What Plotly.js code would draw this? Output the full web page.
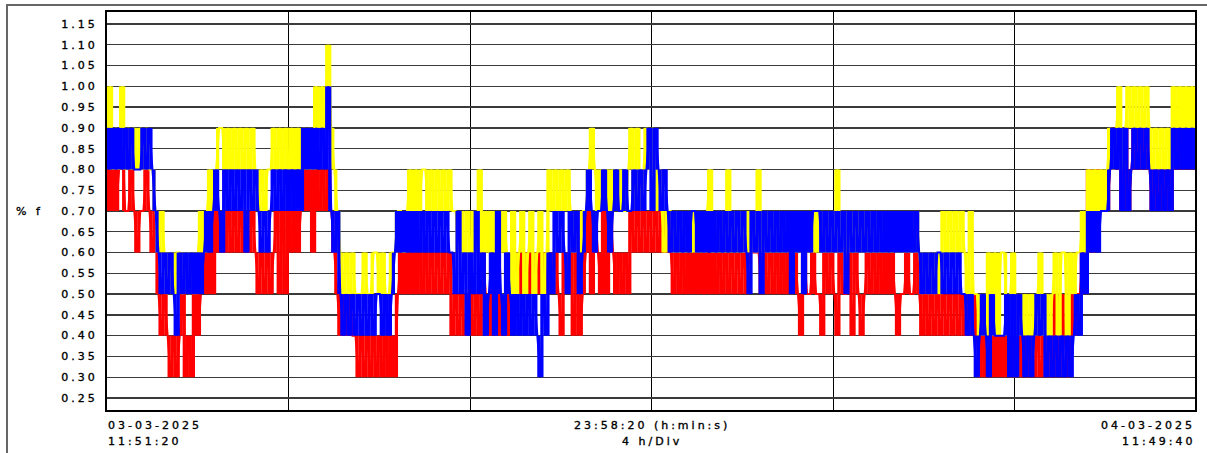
<!DOCTYPE html>
<html>
<head>
<meta charset="utf-8">
<script src="https://cdn.plot.ly/plotly-3.0.1.min.js"></script>
<style>
  html, body { margin: 0; padding: 0; background: #fff; }
  #chart { width: 1207px; height: 453px; }
  svg text { letter-spacing: 3px; stroke: #000; stroke-width: 0.35px; }
</style>
</head>
<body>
<div id="chart"></div>
<script>
// Recording: 03-03-2025 11:51:20 -> 04-03-2025 11:49:40 (4 h/Div)
const durationHours = 23 + 58 / 60 + 20 / 3600;

const yTickValues = [0.25, 0.30, 0.35, 0.40, 0.45, 0.50, 0.55, 0.60, 0.65, 0.70, 0.75, 0.80, 0.85, 0.90, 0.95, 1.00, 1.05, 1.10, 1.15];
const yTickLabels = ["0.25", "0.30", "0.35", "0.40", "0.45", "0.50", "0.55", "0.60", "0.65", "0.70", "0.75", "0.80", "0.85", "0.90", "0.95", "1.00", "1.05", "1.10", "1.15"];

const startDate = "03-03-2025", startTime = "11:51:20";
const spanText = "23:58:20 (h:min:s)", divText = "4 h/Div";
const endDate = "04-03-2025", endTime = "11:49:40";
const yAxisLabel = "% f";

// Sampled values (% f), one sample every ~4 min
const redValues = [
  0.8,0.7,0.8,0.7,0.8,0.9,0.7, 0.7,0.8,0.7,0.6,0.7,0.7,0.8,0.7, 0.6,0.7, 0.5,0.4,0.5,0.4, 0.3,0.4,0.3,
  0.4,0.5,0.3,0.4,0.3,0.5,0.4,0.5, 0.6,0.5,0.6,0.5,
  0.7,0.6,0.7,0.6,0.7,0.6,0.7,0.6,0.7,0.6,0.7,0.6,0.7,0.6,
  0.5,0.6,0.5,0.6,0.5,0.6, 0.7,0.5,0.7,0.5,0.7,0.6,0.7,0.6,0.7, 0.8,0.7,0.8,0.6,0.8,0.7,0.8,
  0.7,0.8,0.7,0.6,0.5,0.4, 0.5,0.4,0.5,0.4,0.4,
  0.3,0.4,0.3,0.4,0.3,0.4,0.3,0.4,0.3,0.4,0.3,0.4,0.3, 0.5,0.6,0.5,
  0.6,0.5,0.6,0.5,0.6,0.5,0.6,0.5,0.6,0.5,0.6,0.5,0.6,0.5,0.6, 0.4,0.5,0.4,0.5,0.4,0.5,
  0.5,0.4,0.5,0.4,0.6,0.5,0.4,0.5,0.4,0.6,0.4,0.5,0.4,0.5,
  0.6,0.5,0.6,0.5,0.6,0.5,0.6,0.5,0.6,0.5,0.6,0.5,
  0.6,0.5,0.6,0.5,0.4,0.6,0.5,0.6,0.4,0.6,0.4,0.5,0.6,
  0.7,0.5,0.7,0.6,0.5,0.7,0.5,0.7,0.6,0.5, 0.6,0.5,0.6,0.5,0.7,0.6,0.7,0.6,0.7,0.6,
  0.7,0.6,0.7,0.6,0.7,0.6,0.7,0.6,
  0.5,0.6,0.5,0.6,0.5,0.6,0.5,0.6,0.5,0.6,0.5,0.6,0.5,0.6,0.5,0.6,0.5,0.6,0.5,0.6,0.5,0.6,0.5,0.6,0.5,0.6,
  0.6,0.6,0.6, 0.5,0.6,0.5,0.6,0.5,0.6,0.5,0.6,0.5,0.6,
  0.5,0.6,0.5,0.4,0.6,0.5,0.5,0.6,0.5,0.5,0.4,0.6,0.5,0.6,0.5,0.4,0.6,0.5,0.5,0.6,0.4,0.6,0.5,0.4,0.5,0.6,0.5,
  0.6,0.5,0.6,0.5,0.6,0.5,0.6,0.5, 0.4,0.5,0.5,0.6,0.5,0.5,0.6,0.5,
  0.4,0.5,0.4,0.5,0.4,0.5,0.4,0.5,0.4,0.5,0.4,0.5,0.4,0.5,0.4, 0.5,0.4,0.5,
  0.4,0.3,0.4,0.3,0.4,0.3,0.4,0.3,0.4,0.3,0.4,0.3,0.4,0.3,0.4,0.3,0.4,0.3,0.4,0.3,0.4,0.3,0.4,0.3,0.4,0.3,0.5,0.3,0.5,0.4,0.3,
  0.5,0.4,0.5,0.5, 0.6,0.5,0.8,0.6,0.7,0.8,0.7,0.7,0.7,0.8,
  0.9,0.8,0.9,0.7,0.9,0.7,0.8,0.9,0.8,0.9,0.8,0.9,0.8, 0.7,0.8,0.7,0.8,0.7,0.8,0.7,
  0.9,0.8,0.9,0.8,0.9,0.8,0.9,0.8
];

const yellowValues = [
  0.9,1.0,0.8,0.9,0.8,1.0,0.8, 0.9,0.8,0.9,0.8,0.9,0.8,0.9,0.8, 0.8,0.7, 0.6,0.7,0.6,
  0.5,0.6,0.5,0.6,0.6,0.5,0.6,0.5,0.6,0.5,0.6, 0.7,0.6, 0.7,0.8,0.7, 0.8,0.9,
  0.9,0.8,0.9,0.8,0.9,0.8,0.9,0.8,0.9,0.8,0.9,0.8, 0.7,0.8,0.7,0.8,0.8,
  0.9,0.8,0.9,0.8,0.9,0.8,0.9,0.8,0.9, 0.8,0.9,0.8,0.9,0.8,1.0,0.9,1.0, 0.9,1.1, 0.9,0.8,0.7,0.6,
  0.5,0.6,0.5,0.6,0.5, 0.5,0.5,0.6,0.5,0.5,0.6, 0.6,0.5,0.6,0.5, 0.5,0.6,0.6,0.7,
  0.7,0.6,0.7,0.8,0.7,0.8,0.7,0.8,0.8,0.7,0.8,0.7,0.8,0.7,0.8,0.7,0.8,0.7,0.7,
  0.6,0.7,0.6,0.7,0.6,0.7,0.6,0.8,0.6,0.7,0.6,0.7,0.6,0.7,0.6,0.7,0.6,
  0.5,0.7,0.5,0.6,0.7,0.5,0.6,0.7,0.5,0.6,0.7,0.5,0.6, 0.8,0.7,0.8,0.7,0.8,0.7,0.8, 0.7,0.6,0.7,0.6,0.7,0.7,
  0.8,0.9,0.8,0.7,0.8,0.7,0.8,0.7,0.8,0.7,0.8,0.7,0.7,0.8,0.9,0.7,0.9,0.7,0.8,0.9, 0.8,0.9,0.7,0.8,0.7,0.6,0.7,
  0.7,0.6,0.7,0.6,0.7,0.6,0.7,0.6,0.7,0.6,0.7,0.6,0.7, 0.8, 0.6,0.7,0.6,0.7,0.6, 0.8,
  0.6,0.7,0.6,0.7,0.6,0.7,0.6,0.7,0.6, 0.8,
  0.6,0.7,0.6,0.7,0.6,0.7,0.6,0.7,0.6,0.7,0.6,0.7,0.6,0.7,0.6,0.7,0.6,0.7,0.6,0.7,0.6,0.7,0.6,0.7,0.6, 0.8,
  0.6,0.7,0.6,0.7,0.6,0.7,0.6,0.7,0.6,0.7,0.6,0.7,0.6,0.7,0.6,0.7,0.6,0.7,0.6,0.7,0.6,0.7,0.6,0.7,0.6,0.7,
  0.6,0.5,0.6,0.5,0.6,0.5,0.6,0.5, 0.7,0.6,0.7,0.6,0.7,0.6,0.7,0.6, 0.5,0.7,0.5,
  0.5,0.4,0.5,0.4,0.6,0.4,0.6,0.4,0.6,0.6,0.4,0.5,0.6,0.4,0.5,0.4,0.5,0.4,0.5,0.4,0.5,0.6,0.4,0.5,0.4,0.5,0.6,0.4,0.6,0.6,0.4,0.6,0.5,0.6,0.6,
  0.7,0.6, 0.8,0.7,0.8,0.7,0.8,0.7,0.8,0.9,
  0.8,0.9,1.0,0.8,0.9,1.0,0.9,1.0,0.9,1.0,0.9,1.0,0.9, 0.8,0.9,0.8,0.9,0.8,0.9,0.8,
  1.0,0.9,1.0,0.9,1.0,0.9,1.0,0.9
];

const blueValues = [
  0.9,0.8,0.9,0.8,0.9,0.8,0.9,0.8,0.9, 0.8,0.8,0.8,0.9,0.8,0.9, 0.8,0.7,0.6,
  0.5,0.6,0.5,0.6,0.5,0.4,0.6,0.5,0.6,0.5,0.6,0.5,0.6,0.5, 0.6,0.7,0.6,0.7,
  0.8,0.7,0.6,0.8,0.7,0.8,0.7,0.8,0.7,0.8,0.6,0.8,0.7,0.8, 0.7,0.6,0.7,0.6,0.7,
  0.8,0.7,0.8,0.7,0.8,0.7,0.8,0.7,0.8,0.7, 0.9,0.8,0.9,0.8,0.9,0.8,0.9, 0.8,1.0,0.7,0.6,0.7,0.5,
  0.4,0.5,0.4,0.5,0.4,0.5,0.4,0.5,0.4,0.5,0.4,0.5, 0.5,0.4,0.5,0.4,0.5,0.6,
  0.7,0.6,0.7,0.6,0.7,0.6,0.7,0.6,0.7,0.6,0.7,0.6,0.7,0.6,0.7,0.6,0.7,0.6,
  0.6,0.5,0.7,0.5,0.6,0.4,0.6,0.5,0.7,0.5,0.6,0.4,0.5,0.6,0.4,0.7,0.5,0.4,0.6,
  0.5,0.4,0.5,0.4,0.5,0.4,0.5,0.4,0.5,0.4,0.3,0.5,0.4,
  0.6,0.5,0.7,0.6,0.7,0.6,0.5,0.7,0.6,0.7,0.5,0.6,0.7,
  0.8,0.7,0.6,0.7,0.7,0.8,0.7,0.6,0.7,0.8,0.7,0.7,0.8,0.7,0.7,0.8,0.7,0.8,0.7,0.8,
  0.9,0.7,0.9,0.8,0.7,0.8,0.7,
  0.6,0.7,0.6,0.7,0.6,0.7,0.6,0.7,0.7,0.6,0.7,0.6,0.7,0.6,0.7,0.6,0.7,0.6,0.7,0.6,0.7,0.6,0.7,0.6,0.7,0.6,
  0.5,0.7,0.6,0.7,0.5,
  0.7,0.6,0.7,0.6,0.7,0.6,0.7,0.6,0.7,0.5,0.7,0.6,0.7,0.5,0.7,0.6,0.7,0.7,0.7,0.6,0.7,0.6,0.7,0.6,0.7,0.6,0.7,
  0.5,0.7,0.6,0.7,0.6,0.7,0.6,0.7,0.6,0.7,0.6,0.7,0.6,0.7,0.6,0.7,0.6,0.7,0.6,0.7,0.6,0.7,0.6,0.7,
  0.6,0.5,0.6,0.5,0.6,0.5,0.6,0.6,0.5,0.6,0.5,0.6,0.5,0.6,0.5,0.5, 0.4,0.5,0.4,
  0.3,0.4,0.5,0.4,0.3,0.5,0.4,0.4,0.4,0.4,0.5,0.3,0.5,0.3,0.5,0.4,0.3,0.4,0.3,0.4,0.5,0.4,0.5,0.3,0.4,0.3,0.4,0.3,0.4,0.3,0.4,0.3,0.4,
  0.5,0.4, 0.6,0.5, 0.7,0.6,0.7,0.6,0.7, 0.7,0.7,0.8,
  0.9,0.8,0.9,0.7,0.9,0.7,0.8,0.9,0.8,0.9,0.8,0.9,0.8, 0.7,0.8,0.7,0.8,0.7,0.8,0.7,
  0.9,0.8,0.9,0.8,0.9,0.8,0.9,0.8
];

const PL = 107, PR = 1195, PT = 12, PB = 410;
const pw = PR - PL, ph = PB - PT;

function sampleTimes(values) {
  const dt = durationHours / (values.length - 1);
  return values.map((_, i) => i * dt);
}

// Between two consecutive samples the recorder pen sweeps the whole span from
// one value to the next; draw each sweep as a vertical stroke one sample wide.
function sweepStrokes(values, color) {
  const dt = durationHours / (values.length - 1);
  const x = [], y = [];
  for (let i = 0; i < values.length - 1; i++) {
    const a = values[i], b = values[i + 1];
    if (a === b) continue;
    const xm = (i + 0.5) * dt;
    x.push(xm, xm, null);
    y.push(Math.min(a, b), Math.max(a, b), null);
  }
  const strokePx = pw / (values.length - 1) + 0.2;
  return { type: "scatter", mode: "lines", x: x, y: y, connectgaps: false,
           line: { color: color, width: strokePx }, hoverinfo: "skip" };
}

function traceLine(values, color) {
  return { type: "scatter", mode: "lines", x: sampleTimes(values), y: values,
           line: { color: color, width: 2 }, hoverinfo: "skip" };
}

const traces = [
  traceLine(redValues, "#ff0000"), sweepStrokes(redValues, "#ff0000"),
  traceLine(yellowValues, "#ffff00"), sweepStrokes(yellowValues, "#ffff00"),
  traceLine(blueValues, "#0000ff"), sweepStrokes(blueValues, "#0000ff")
];

const px = v => (v - PL) / pw;
const py = v => (PB - v) / ph;
const font = { family: "DejaVu Sans, Verdana, sans-serif", size: 11, color: "#000" };

function label(text, xPix, yPix, anchor) {
  return { text: text, xref: "paper", yref: "paper", x: px(xPix), y: py(yPix),
           xanchor: anchor, yanchor: "middle", showarrow: false, font: font };
}

const layout = {
  width: 1207, height: 453,
  margin: { l: PL, r: 1207 - PR, t: PT, b: 453 - PB, pad: 0 },
  paper_bgcolor: "#ffffff", plot_bgcolor: "#ffffff",
  showlegend: false,
  font: font,
  xaxis: {
    range: [0, durationHours], tick0: 0, dtick: 4,
    showgrid: true, gridcolor: "#000", gridwidth: 1,
    showticklabels: false, ticks: "", zeroline: false,
    showline: true, mirror: true, linecolor: "#000", linewidth: 2
  },
  yaxis: {
    range: [0.221, 1.179], tickmode: "array", tickvals: yTickValues, ticktext: yTickLabels,
    showgrid: true, gridcolor: "#3a3a3a", gridwidth: 1.3,
    ticks: "", zeroline: false, ticklabelstandoff: 5,
    showline: true, mirror: true, linecolor: "#000", linewidth: 2,
    tickfont: font
  },
  annotations: [
    { text: yAxisLabel, xref: "paper", yref: "y", x: px(14), y: 0.70, xanchor: "left", yanchor: "middle", showarrow: false, font: font },
    label(startDate, 106, 425, "left"),
    label(startTime, 106, 441, "left"),
    label(spanText, 652, 425, "center"),
    label(divText, 652, 441, "center"),
    label(endDate, 1197, 425, "right"),
    label(endTime, 1197, 441, "right")
  ],
  shapes: [
    { type: "line", xref: "paper", yref: "paper", x0: px(6), x1: px(1207), y0: py(5), y1: py(5), line: { color: "#666", width: 2 } },
    { type: "line", xref: "paper", yref: "paper", x0: px(7), x1: px(7), y0: py(5), y1: py(453), line: { color: "#666", width: 2 } }
  ]
};

Plotly.newPlot("chart", traces, layout, { staticPlot: true, displayModeBar: false });
</script>
</body>
</html>
